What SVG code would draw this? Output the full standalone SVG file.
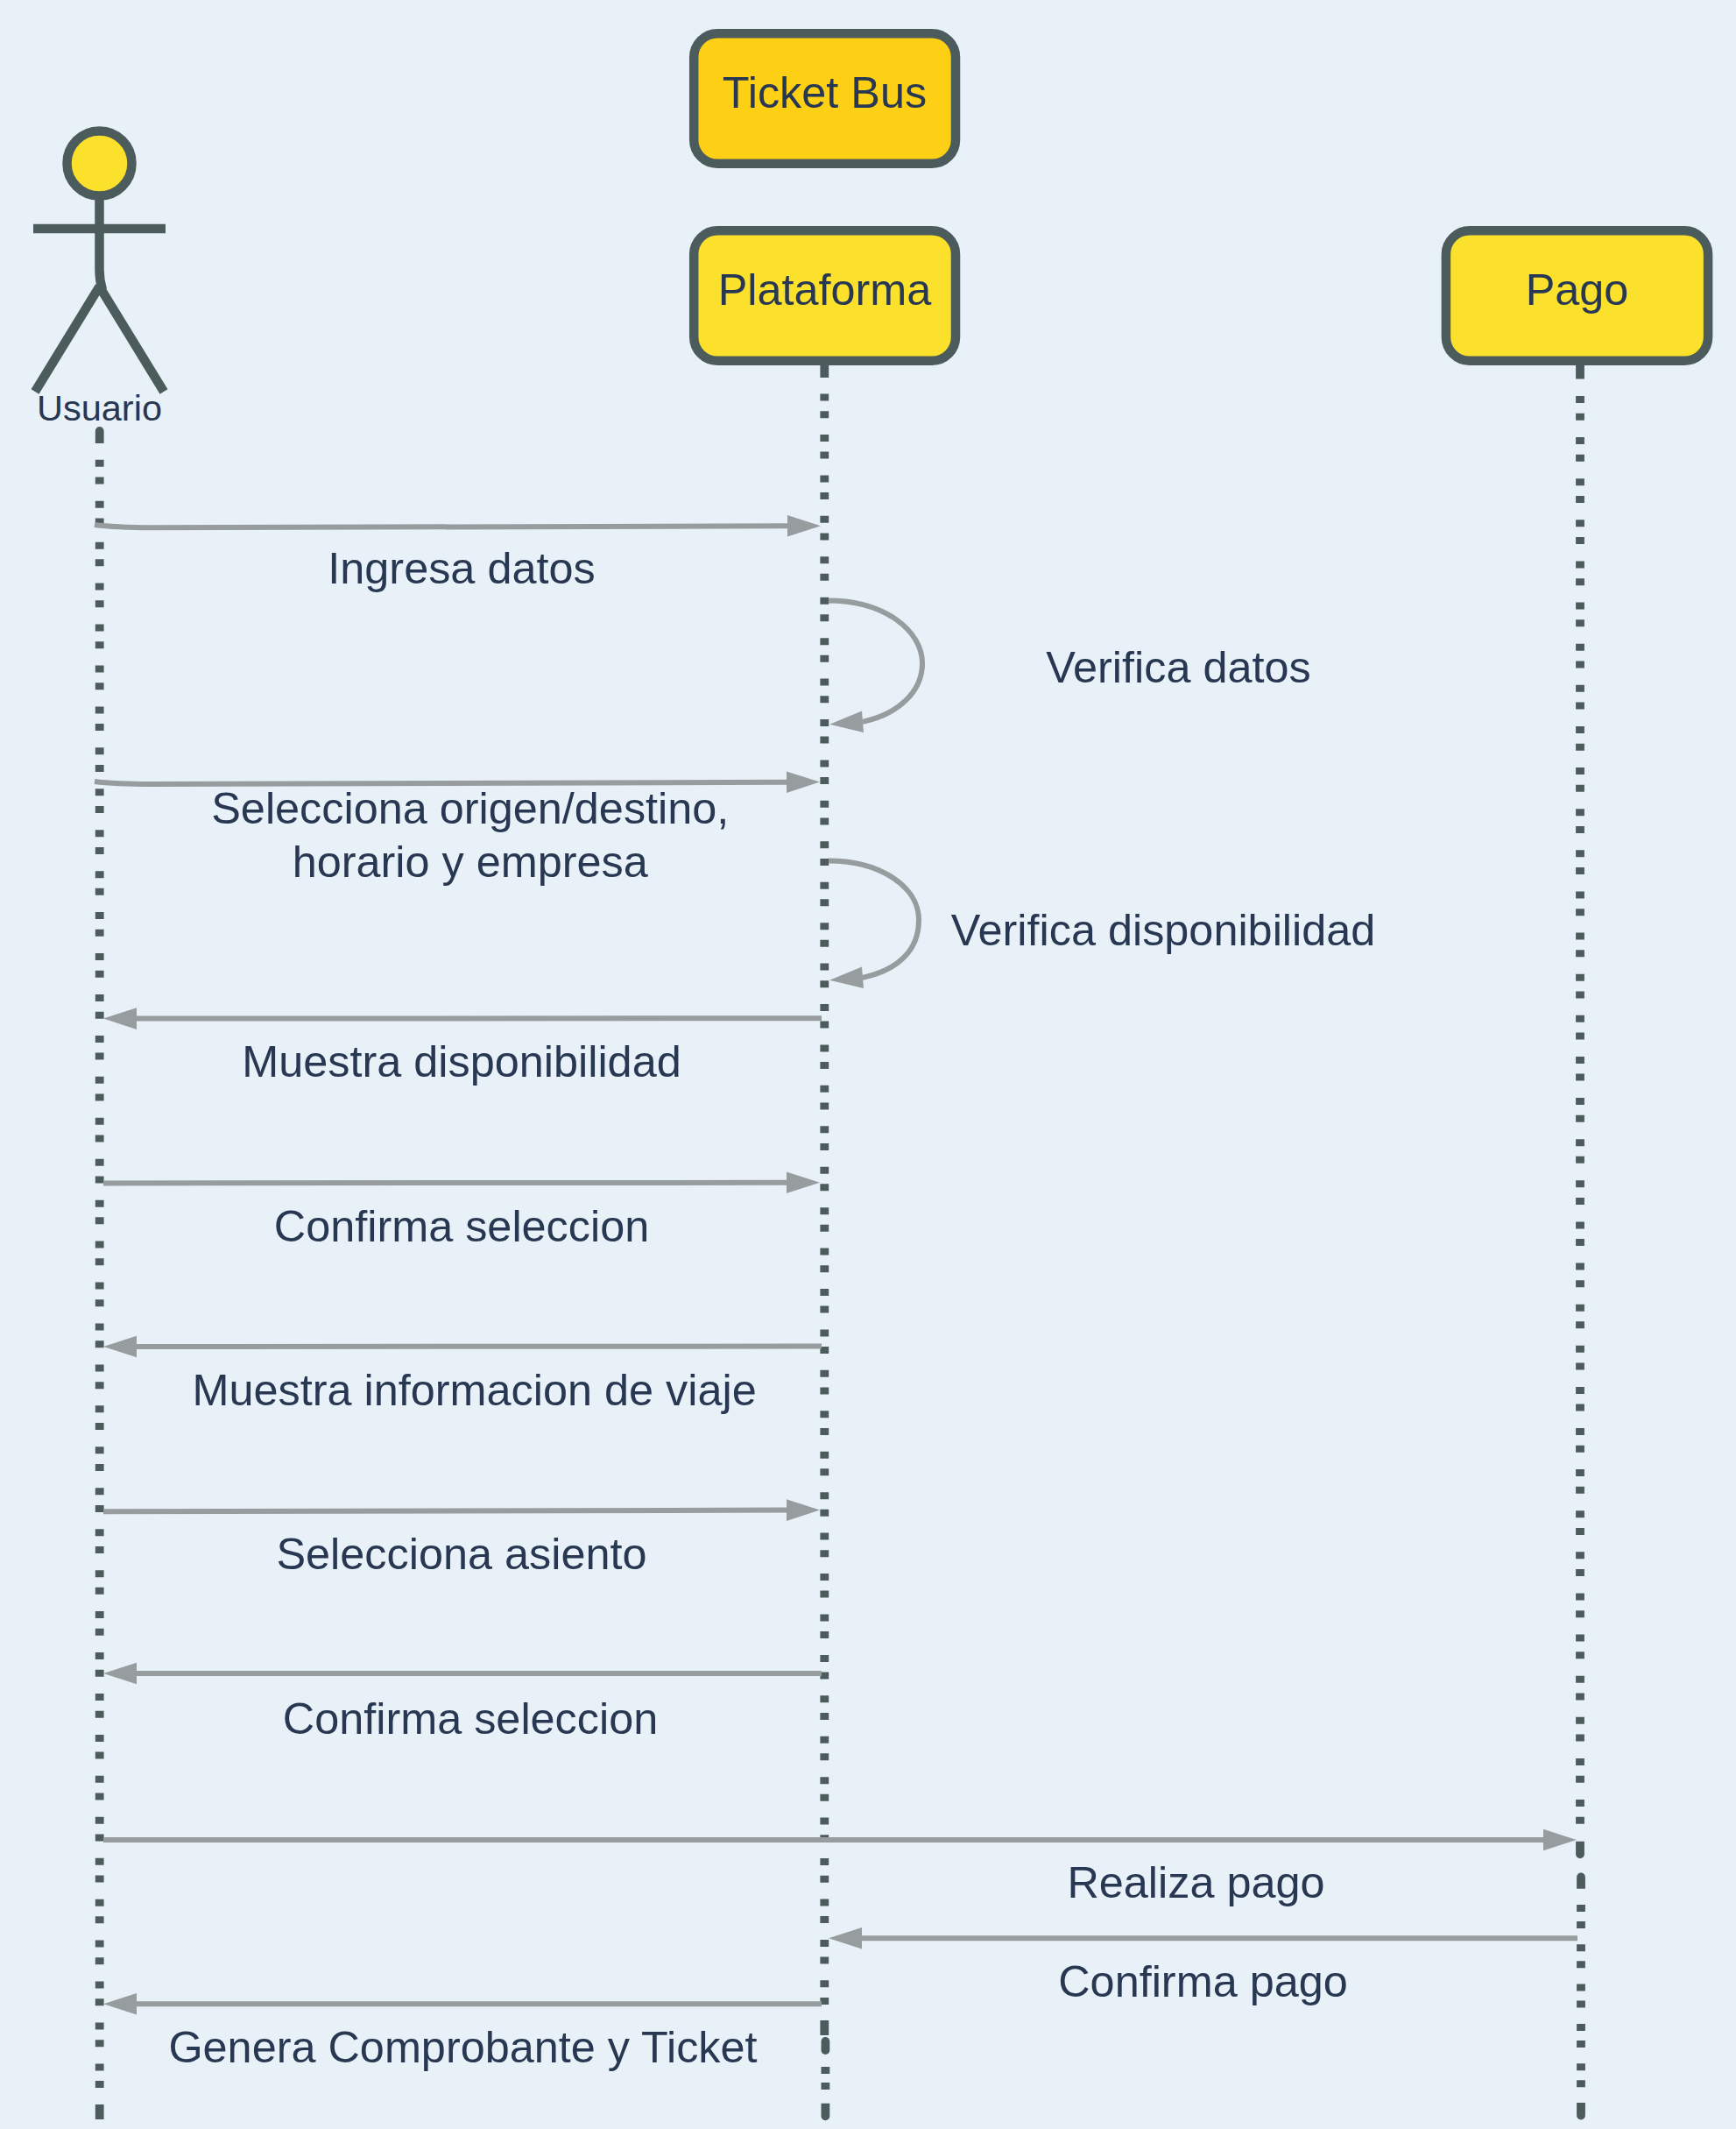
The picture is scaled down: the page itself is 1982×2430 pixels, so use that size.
<svg xmlns="http://www.w3.org/2000/svg" width="1982" height="2430" viewBox="0 0 1982 2430">
<defs>
<style>
text{font-family:"Liberation Sans",Arial,sans-serif;fill:#283752;text-anchor:middle;font-size:50.4px}
.box{stroke:#4c5c5c;stroke-width:10.5}
.actor{stroke:#4c5c5c;stroke-width:10.5;fill:none}
.life{stroke:#4c5c5c;stroke-width:9.8;fill:none}
.cap{fill:#4c5c5c}
.conn{stroke:#979c9f;stroke-width:6;fill:none;marker-end:url(#head)}
</style>
<marker id="head" markerUnits="userSpaceOnUse" markerWidth="42" markerHeight="28" refX="0" refY="12.3" orient="auto" overflow="visible"><path d="M0 0L38 12.3L0 24.6Z" fill="#979c9f"/></marker>
</defs>
<rect width="1982" height="2430" fill="#e8f1f7"/>
<g id="lifelines">
<g id="life-usuario">
<path class="cap" d="M108.8 506V492a4.9 4.9 0 0 1 9.8 0V506Z"/>
<path class="life" d="M113.7 524.75V2385" stroke-dasharray="8 11.7 8 19.24"/>
<path class="life" d="M113.7 2402V2419"/>
</g>
<g id="life-plataforma">
<path class="life" d="M941.3 417V431"/>
<path class="life" d="M941.3 449.55V2291" stroke-dasharray="8 11.6 8 18.83"/>
<path class="life" d="M941.3 2306V2323"/>
<path class="cap" d="M937.5 2330a4.9 4.9 0 0 1 9.8 0V2340a4.9 4.9 0 0 1 -9.8 0Z"/>
<path class="life" d="M942.4 2359V2367M942.4 2377V2385"/>
<path class="cap" d="M937.5 2400.7H947.3V2415.3a4.9 4.9 0 0 1 -9.8 0Z"/>
</g>
<g id="life-pago">
<path class="life" d="M1804 417V432.5"/>
<path class="life" d="M1804 452V2083" stroke-dasharray="8 11.7 8 19.42"/>
<path class="cap" d="M1799.1 2101.7H1808.9V2116.3a4.9 4.9 0 0 1 -9.8 0Z"/>
<path class="cap" d="M1800.1 2155.7V2142.5a4.9 4.9 0 0 1 9.8 0V2155.7Z"/>
<path class="life" d="M1805 2174V2385" stroke-dasharray="8 11 8 18.3"/>
<path class="cap" d="M1800.1 2400H1809.9V2414.5a4.9 4.9 0 0 1 -9.8 0Z"/>
</g>
</g>
<g id="node-ticket-bus">
<rect class="box" x="792.2" y="38.2" width="298.8" height="148.6" rx="27" fill="#fdd015"/>
<text x="941.5" y="122.8">Ticket Bus</text>
</g>
<g id="node-plataforma">
<rect class="box" x="792.2" y="263.2" width="298.8" height="148.6" rx="27" fill="#fbe12b"/>
<text x="941.5" y="348">Plataforma</text>
</g>
<g id="node-pago">
<rect class="box" x="1650.9" y="263.2" width="299.2" height="148.6" rx="27" fill="#fbe12b"/>
<text x="1800.5" y="347.6">Pago</text>
</g>
<g id="node-usuario">
<circle class="actor" cx="113.5" cy="186.5" r="37" style="fill:#fbe12b"/>
<path class="actor" d="M113.5 228V308Q113.5 320 117 331M38 261H189M113.5 327L40 447M113.5 327L187 447"/>
<text x="113.5" y="480" style="font-size:41.5px">Usuario</text>
</g>
<g id="connectors">
<path class="conn" d="M108 599Q130 602 175 602.3L899 600.3"/>
<path class="conn" d="M946 685.5C1010 685.5 1053 720 1053 757C1053 790 1025 815 986 823.6L985 823.68"/>
<path class="conn" d="M108 892Q130 895 175 895L898 892.7"/>
<path class="conn" d="M946 982.4C1005 982.4 1049 1012 1049 1050C1049 1085 1025 1107 986 1115.6L985 1115.68"/>
<path class="conn" d="M938 1162.3L156 1162.6"/>
<path class="conn" d="M118 1350.4L898 1349.8"/>
<path class="conn" d="M938 1536.6L156 1537"/>
<path class="conn" d="M118 1725.3L898 1723.6"/>
<path class="conn" d="M938 1910L156 1910"/>
<path class="conn" d="M118 2100L1762 2100"/>
<path class="conn" d="M1801 2212.3L984 2212.3"/>
<path class="conn" d="M938 2287.2L156 2287.2"/>
</g>
<g id="labels">
<text x="527" y="666.4">Ingresa datos</text>
<text x="1345.5" y="779">Verifica datos</text>
<text x="536.8" y="940.2">Selecciona origen/destino,</text>
<text x="536.8" y="1001.4">horario y empresa</text>
<text x="1328" y="1078.6">Verifica disponibilidad</text>
<text x="527" y="1229.4">Muestra disponibilidad</text>
<text x="527" y="1416.6">Confirma seleccion</text>
<text x="541.6" y="1604.2">Muestra informacion de viaje</text>
<text x="527" y="1791.4">Selecciona asiento</text>
<text x="537" y="1979.2">Confirma seleccion</text>
<text x="1365.5" y="2166">Realiza pago</text>
<text x="1373.5" y="2279.4">Confirma pago</text>
<text x="528.5" y="2353.6">Genera Comprobante y Ticket</text>
</g>
</svg>
